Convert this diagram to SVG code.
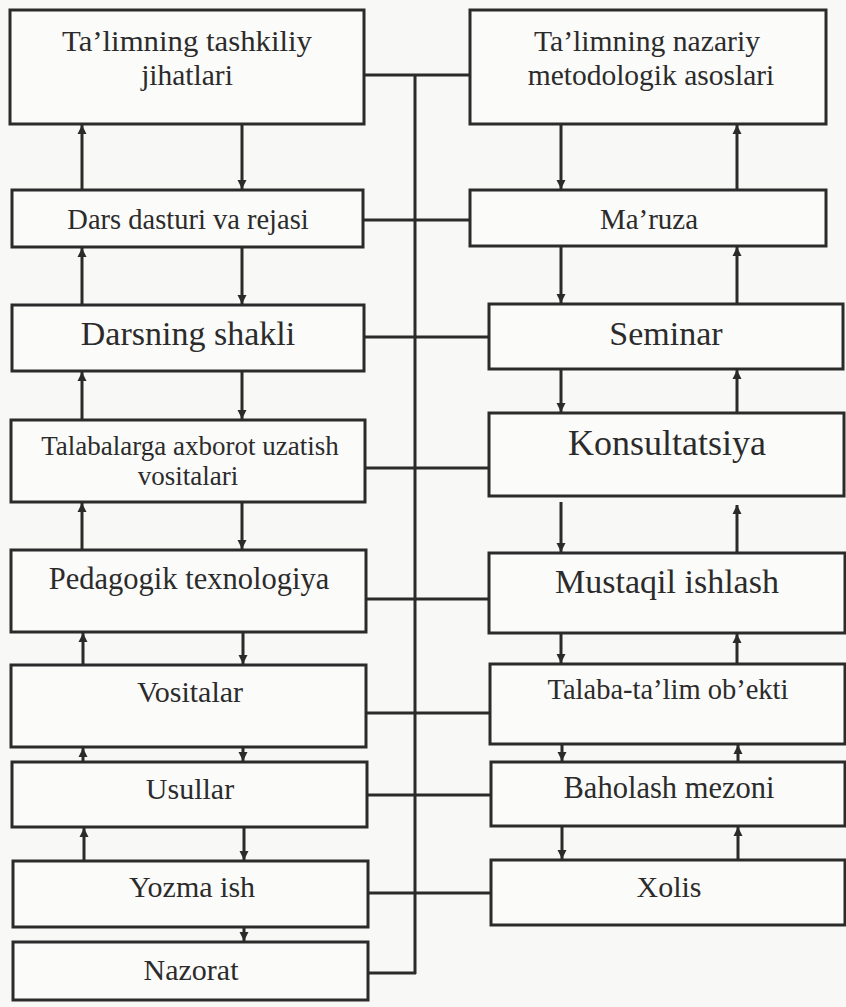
<svg xmlns="http://www.w3.org/2000/svg" width="846" height="1007" viewBox="0 0 846 1007">
<style>
.box{fill:#fbfbfa;stroke:#2b2b2b;stroke-width:3}
.t{font-family:"Liberation Serif","Times New Roman",serif;fill:#2b2b2b;text-anchor:middle}
.ln{stroke:#2b2b2b;stroke-width:3;fill:none}
.ar{stroke:#2b2b2b;stroke-width:3;fill:none;marker-end:url(#ah)}
</style>
<defs>
<marker id="ah" markerUnits="userSpaceOnUse" markerWidth="10" markerHeight="10" refX="9" refY="5" orient="auto">
<path d="M0,0.5 L9,5 L0,9.5 z" fill="#2b2b2b"/>
</marker>
</defs>
<rect width="846" height="1007" fill="#f8f8f6"/>
<g id="connectors">
<line class="ln" x1="415" y1="75" x2="415" y2="974"/>
<line class="ln" x1="364" y1="75" x2="470" y2="75"/>
<line class="ln" x1="363" y1="220" x2="470" y2="220"/>
<line class="ln" x1="364" y1="337" x2="489" y2="337"/>
<line class="ln" x1="365" y1="468" x2="489" y2="468"/>
<line class="ln" x1="366" y1="599" x2="489" y2="599"/>
<line class="ln" x1="366" y1="713" x2="490" y2="713"/>
<line class="ln" x1="367" y1="795" x2="491" y2="795"/>
<line class="ln" x1="368" y1="893" x2="491" y2="893"/>
<line class="ln" x1="368" y1="973" x2="416" y2="973"/>
<line class="ar" x1="82" y1="190" x2="82" y2="125"/>
<line class="ar" x1="242" y1="124" x2="242" y2="189"/>
<line class="ar" x1="82" y1="305" x2="82" y2="248"/>
<line class="ar" x1="242" y1="247" x2="242" y2="304"/>
<line class="ar" x1="82" y1="420" x2="82" y2="372"/>
<line class="ar" x1="242" y1="371" x2="242" y2="419"/>
<line class="ar" x1="82" y1="550" x2="82" y2="503"/>
<line class="ar" x1="242" y1="502" x2="242" y2="549"/>
<line class="ar" x1="83" y1="665" x2="83" y2="633"/>
<line class="ar" x1="243" y1="632" x2="243" y2="664"/>
<line class="ar" x1="83" y1="762" x2="83" y2="748"/>
<line class="ar" x1="243" y1="747" x2="243" y2="761"/>
<line class="ar" x1="84" y1="861" x2="84" y2="828"/>
<line class="ar" x1="244" y1="827" x2="244" y2="860"/>
<line class="ar" x1="244" y1="927" x2="244" y2="941"/>
<line class="ar" x1="561" y1="124" x2="561" y2="189"/>
<line class="ar" x1="737" y1="190" x2="737" y2="125"/>
<line class="ar" x1="561" y1="246" x2="561" y2="303"/>
<line class="ar" x1="737" y1="304" x2="737" y2="247"/>
<line class="ar" x1="561" y1="369" x2="561" y2="412"/>
<line class="ar" x1="737" y1="413" x2="737" y2="370"/>
<line class="ar" x1="561" y1="502" x2="561" y2="552"/>
<line class="ar" x1="737" y1="553" x2="737" y2="505"/>
<line class="ar" x1="561" y1="633" x2="561" y2="663"/>
<line class="ar" x1="737" y1="664" x2="737" y2="634"/>
<line class="ar" x1="562" y1="744" x2="562" y2="761"/>
<line class="ar" x1="738" y1="762" x2="738" y2="745"/>
<line class="ar" x1="562" y1="826" x2="562" y2="859"/>
<line class="ar" x1="738" y1="860" x2="738" y2="827"/>
</g>
<g id="n-tashkiliy"><rect class="box" x="10" y="10" width="354" height="114"/>
<text class="t" x="187" y="51" font-size="29.5" textLength="250" lengthAdjust="spacingAndGlyphs">Ta’limning tashkiliy</text>
<text class="t" x="187" y="85" font-size="29.5">jihatlari</text></g>
<g id="n-nazariy"><rect class="box" x="470" y="10" width="356" height="114"/>
<text class="t" x="647" y="51" font-size="29.5" textLength="226" lengthAdjust="spacingAndGlyphs">Ta’limning nazariy</text>
<text class="t" x="651" y="85" font-size="29.5">metodologik asoslari</text></g>
<g id="n-dars"><rect class="box" x="12" y="190" width="351" height="57"/>
<text class="t" x="188" y="229" font-size="28.5">Dars dasturi va rejasi</text></g>
<g id="n-maruza"><rect class="box" x="470" y="190" width="356" height="56"/>
<text class="t" x="649" y="229" font-size="29">Ma’ruza</text></g>
<g id="n-shakli"><rect class="box" x="12" y="305" width="352" height="66"/>
<text class="t" x="188" y="345" font-size="34">Darsning shakli</text></g>
<g id="n-seminar"><rect class="box" x="489" y="304" width="354" height="65"/>
<text class="t" x="666" y="345" font-size="34">Seminar</text></g>
<g id="n-talabalarga"><rect class="box" x="11" y="420" width="354" height="82"/>
<text class="t" x="190" y="455" font-size="27">Talabalarga axborot uzatish</text>
<text class="t" x="188" y="485" font-size="27">vositalari</text></g>
<g id="n-konsultatsiya"><rect class="box" x="489" y="413" width="355" height="83"/>
<text class="t" x="667" y="455" font-size="36">Konsultatsiya</text></g>
<g id="n-pedagogik"><rect class="box" x="11" y="550" width="355" height="82"/>
<text class="t" x="189" y="589" font-size="30.5">Pedagogik texnologiya</text></g>
<g id="n-mustaqil"><rect class="box" x="489" y="553" width="356" height="80"/>
<text class="t" x="667" y="593" font-size="34">Mustaqil ishlash</text></g>
<g id="n-vositalar"><rect class="box" x="11" y="665" width="355" height="82"/>
<text class="t" x="190" y="702" font-size="30">Vositalar</text></g>
<g id="n-talaba"><rect class="box" x="490" y="664" width="355" height="80"/>
<text class="t" x="668" y="699" font-size="28.5">Talaba-ta’lim ob’ekti</text></g>
<g id="n-usullar"><rect class="box" x="12" y="762" width="355" height="65"/>
<text class="t" x="190" y="799" font-size="30">Usullar</text></g>
<g id="n-baholash"><rect class="box" x="491" y="762" width="354" height="64"/>
<text class="t" x="669" y="798" font-size="30.5">Baholash mezoni</text></g>
<g id="n-yozma"><rect class="box" x="13" y="861" width="355" height="66"/>
<text class="t" x="192" y="897" font-size="30">Yozma ish</text></g>
<g id="n-xolis"><rect class="box" x="491" y="860" width="354" height="65"/>
<text class="t" x="669" y="897" font-size="30">Xolis</text></g>
<g id="n-nazorat"><rect class="box" x="13" y="942" width="355" height="58"/>
<text class="t" x="191" y="980" font-size="30">Nazorat</text></g>
</svg>
